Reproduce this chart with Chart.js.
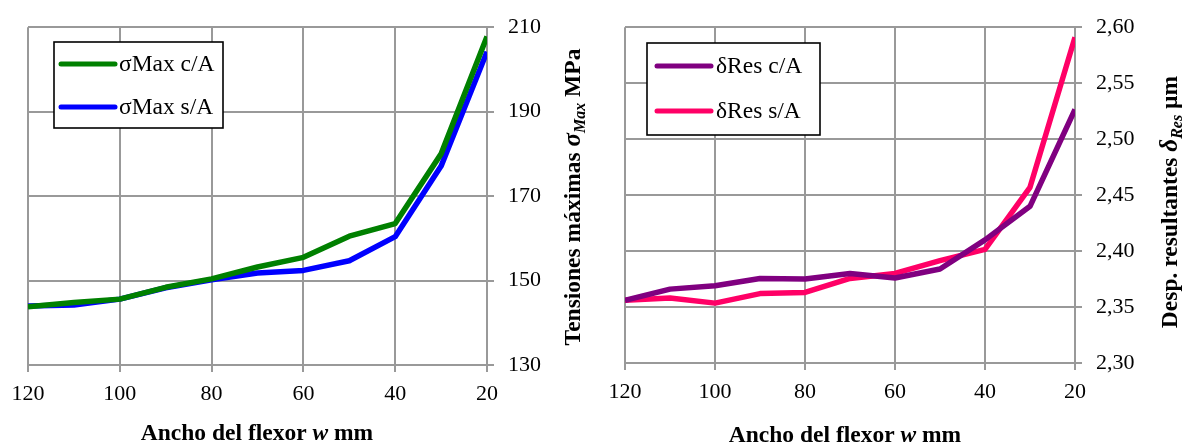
<!DOCTYPE html>
<html>
<head>
<meta charset="utf-8">
<script src="https://cdn.jsdelivr.net/npm/chart.js@4.4.1/dist/chart.umd.min.js"></script>
<style>
  html, body { margin: 0; padding: 0; background: #fff; }
  .panel { position: absolute; top: 0; height: 443px; }
  #left { left: 0; width: 595px; }
  #right { left: 595px; width: 591px; }
</style>
</head>
<body>
<div class="panel" id="left"><canvas id="c1"></canvas></div>
<div class="panel" id="right"><canvas id="c2"></canvas></div>
<script>
// Ancho del flexor (mm)
const widths = [120, 110, 100, 90, 80, 70, 60, 50, 40, 30, 20];

// Tensiones máximas (MPa)
const sigmaCA = [143.8, 144.8, 145.6, 148.4, 150.4, 153.2, 155.5, 160.5, 163.5, 180.0, 207.8];
const sigmaSA = [144.0, 144.2, 145.6, 148.3, 150.2, 151.8, 152.4, 154.7, 160.4, 177.1, 204.2];

// Desplazamientos resultantes (µm)
const deltaCA = [2.356, 2.366, 2.369, 2.3755, 2.375, 2.380, 2.376, 2.384, 2.410, 2.440, 2.5265];
const deltaSA = [2.356, 2.358, 2.3535, 2.362, 2.363, 2.3755, 2.380, 2.3915, 2.4015, 2.457, 2.591];

const SERIF = "'Liberation Serif', 'Times New Roman', serif";
const GRID = '#999999';

Chart.defaults.font.family = SERIF;
Chart.defaults.color = '#000';

const toPoints = ys => widths.map((x, i) => ({ x, y: ys[i] }));

// Draws a line of text made of several runs with different fonts
function richText(ctx, parts, cx, cy, rot) {
    ctx.save();
    ctx.translate(cx, cy);
    ctx.rotate(rot);
    ctx.fillStyle = '#000';
    ctx.textBaseline = 'alphabetic';
    let total = 0;
    parts.forEach(p => { ctx.font = p.font; total += ctx.measureText(p.text).width; });
    let x = -total / 2;
    parts.forEach(p => {
        ctx.font = p.font;
        ctx.fillText(p.text, x, p.dy || 0);
        x += ctx.measureText(p.text).width;
    });
    ctx.restore();
}

// Legend box + axis titles, drawn by hand
const decorations = {
    id: 'decorations',
    afterDraw(chart, args, opts) {
        const ctx = chart.ctx;
        const lg = opts.legend;
        ctx.save();
        ctx.fillStyle = '#fff';
        ctx.fillRect(lg.x, lg.y, lg.w, lg.h);
        ctx.strokeStyle = '#000';
        ctx.lineWidth = 1.6;
        ctx.strokeRect(lg.x, lg.y, lg.w, lg.h);
        chart.data.datasets.forEach((ds, i) => {
            const y = lg.rows[i];
            ctx.strokeStyle = ds.borderColor;
            ctx.lineWidth = 5;
            ctx.lineCap = 'round';
            ctx.beginPath();
            ctx.moveTo(lg.lineX0, y);
            ctx.lineTo(lg.lineX1, y);
            ctx.stroke();
            ctx.fillStyle = '#000';
            ctx.font = '23.5px ' + SERIF;
            ctx.textBaseline = 'middle';
            ctx.fillText(ds.label, lg.textX, y + 1);
        });
        ctx.restore();

        richText(ctx, opts.xTitle.parts, opts.xTitle.x, opts.xTitle.y, 0);
        richText(ctx, opts.yTitle.parts, opts.yTitle.x, opts.yTitle.y, -Math.PI / 2);
    }
};

function makeChart(canvas, cfg) {
    return new Chart(canvas, {
        type: 'line',
        data: {
            datasets: cfg.series.map(s => ({
                label: s.label,
                data: toPoints(s.data),
                borderColor: s.color,
                borderWidth: 5.5,
                pointRadius: 0,
                tension: 0,
                borderJoinStyle: 'round',
                fill: false
            }))
        },
        options: {
            responsive: true,
            maintainAspectRatio: false,
            animation: false,
            layout: { padding: { left: cfg.padLeft, top: 20, right: 0, bottom: 0 } },
            plugins: {
                legend: { display: false },
                tooltip: { enabled: false },
                decorations: cfg.deco
            },
            scales: {
                x: {
                    type: 'linear',
                    reverse: true,
                    min: 20,
                    max: 120,
                    ticks: { stepSize: 20, maxRotation: 0, padding: 9, font: { size: 22 }, color: '#000' },
                    grid: { color: GRID, lineWidth: 2, tickLength: 7 },
                    border: { color: GRID, width: 2 },
                    afterFit: s => { s.height = cfg.xHeight; }
                },
                y: {
                    position: 'right',
                    min: cfg.yMin,
                    max: cfg.yMax,
                    ticks: {
                        stepSize: cfg.yStep,
                        padding: 14,
                        font: { size: 22 },
                        color: '#000',
                        callback: cfg.yFormat
                    },
                    grid: { color: GRID, lineWidth: 2, tickLength: 7 },
                    border: { color: GRID, width: 2 },
                    afterFit: s => { s.width = cfg.yWidth; }
                }
            }
        },
        plugins: [decorations]
    });
}

const boldF = '700 23.5px ' + SERIF;
const xTitleParts = [
    { text: 'Ancho del flexor ', font: boldF },
    { text: 'w', font: 'italic 700 23.5px ' + SERIF },
    { text: ' mm', font: boldF }
];

makeChart(document.getElementById('c1'), {
    series: [
        { label: 'σMax c/A', data: sigmaCA, color: '#008000' },
        { label: 'σMax s/A', data: sigmaSA, color: '#0000ff' }
    ],
    padLeft: 28, xHeight: 78, yWidth: 108,
    yMin: 130, yMax: 210, yStep: 20,
    yFormat: v => String(v),
    deco: {
        legend: { x: 54, y: 42, w: 169, h: 86, rows: [64, 107], lineX0: 61, lineX1: 115, textX: 119 },
        xTitle: { parts: xTitleParts, x: 257, y: 440 },
        yTitle: {
            x: 580, y: 197,
            parts: [
                { text: 'Tensiones máximas ', font: boldF },
                { text: 'σ', font: 'italic 700 25px ' + SERIF },
                { text: 'Max', font: 'italic 700 16px ' + SERIF, dy: 5 },
                { text: ' MPa', font: boldF }
            ]
        }
    }
});

makeChart(document.getElementById('c2'), {
    series: [
        { label: 'δRes c/A', data: deltaCA, color: '#800080' },
        { label: 'δRes s/A', data: deltaSA, color: '#ff0066' }
    ],
    padLeft: 30, xHeight: 80, yWidth: 111,
    yMin: 2.30, yMax: 2.60, yStep: 0.05,
    yFormat: v => v.toFixed(2).replace('.', ','),
    deco: {
        legend: { x: 52, y: 43, w: 173, h: 92, rows: [66, 111], lineX0: 62, lineX1: 116, textX: 121 },
        xTitle: { parts: xTitleParts, x: 250, y: 442 },
        yTitle: {
            x: 582, y: 202,
            parts: [
                { text: 'Desp. resultantes ', font: boldF },
                { text: 'δ', font: 'italic 700 25px ' + SERIF },
                { text: 'Res', font: 'italic 700 16px ' + SERIF, dy: 5 },
                { text: ' µm', font: boldF }
            ]
        }
    }
});
</script>
</body>
</html>
